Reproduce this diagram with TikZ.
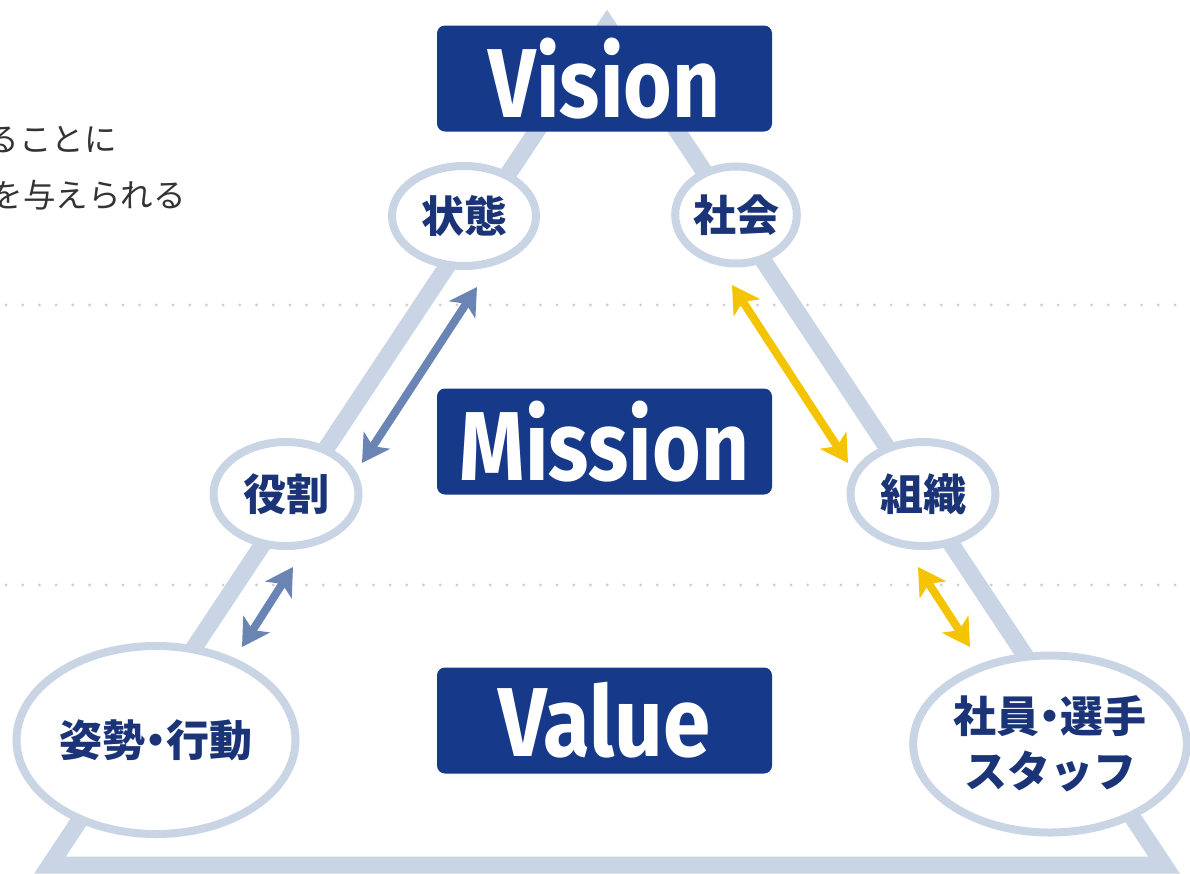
\documentclass[tikz,border=0pt]{standalone}
\usepackage{fontspec}
\usepackage{graphicx}
\setmainfont{Fira Sans}
\newfontfamily\cjk{Noto Sans CJK JP}
\newfontfamily\cjkp{Noto Sans CJK JP}[RawFeature=+palt]
\newcommand{\ndot}{{\cjkp\bfseries ・}}
\usetikzlibrary{arrows.meta,shapes.geometric}
\definecolor{navy}{HTML}{17398A}
\definecolor{band}{HTML}{C9D5E5}
\definecolor{arrblue}{HTML}{6A84B3}
\definecolor{arryel}{HTML}{F5C400}
\definecolor{txtnavy}{HTML}{1B3478}
\definecolor{dotgray}{HTML}{CFCFCF}
\definecolor{bodytext}{HTML}{333333}
\tikzset{
 ring/.style={ellipse, draw=band, line width=8pt, fill=white, inner sep=0pt, text=txtnavy, align=center, font=\cjk\bfseries\fontsize{43}{55}\selectfont},
 titlebox/.style={fill=navy, rounded corners=8pt, minimum width=335pt, minimum height=106pt, inner sep=0pt, text=white, font=\bfseries\fontsize{98}{98}\selectfont},
 twoway/.style={line width=8pt, {Stealth[length=27pt,width=31pt,inset=7pt]}-{Stealth[length=27pt,width=31pt,inset=7pt]}},
 bodytxt/.style={anchor=east, inner sep=0pt, text=bodytext, font=\cjk\fontsize{32.5}{32.5}\selectfont},
}
\begin{document}
\begin{tikzpicture}[x=1pt,y=-1pt]
\useasboundingbox (0,0) rectangle (1190,873);
\clip (0,0) rectangle (1190,873);
\fill[white] (0,0) rectangle (1190,873);
% dotted guide lines
\foreach \i in {0,...,71} {
  \fill[dotgray] (6+\i*16.7,305) circle (1.6);
  \fill[dotgray] (6+\i*16.7,585) circle (1.6);
}
% triangle band
\draw[band, line width=17pt, line join=miter] (607,25) -- (50,865) -- (1164,865) -- cycle;
% text at left
\node[bodytxt] (t1) at (117,140) {ることに};
\node[bodytxt] (t2) at (186,195) {を与えられる};
% ellipses
\node[ring, minimum width=144pt, minimum height=100pt] (joutai) at (464,216) {状態};
\node[ring, minimum width=120pt, minimum height=97pt] (shakai) at (736,215) {社会};
\node[ring, minimum width=145pt, minimum height=104pt] (yakuwari) at (286,494) {役割};
\node[ring, minimum width=145pt, minimum height=104pt] (soshiki) at (923,494) {組織};
\node[ring, minimum width=279pt, minimum height=188pt] (shisei) at (156,740) {姿勢\ndot 行動};
\node[ring, minimum width=266pt, minimum height=177pt] (shain) at (1050,744) {社員\ndot 選手\\スタッフ};
% title boxes
\node[titlebox] (vision) at (604.5,78.5) {\scalebox{0.85}[1]{Vision}};
\node[titlebox] (mission) at (604.5,441.5) {\scalebox{0.85}[1]{Mission}};
\node[titlebox] (value) at (604.5,720.5) {\scalebox{0.87}[1]{Value}};
% arrow end points
\coordinate (b1a) at (477,287);
\coordinate (b1b) at (362,463);
\coordinate (b2a) at (293,567);
\coordinate (b2b) at (242,647);
\coordinate (y1a) at (732,285);
\coordinate (y1b) at (848,463);
\coordinate (y2a) at (918,567);
\coordinate (y2b) at (970,647);
\draw[twoway, arrblue] (b1a) -- (b1b);
\draw[twoway, arrblue] (b2a) -- (b2b);
\draw[twoway, arryel] (y1a) -- (y1b);
\draw[twoway, arryel] (y2a) -- (y2b);
\end{tikzpicture}
\end{document}
